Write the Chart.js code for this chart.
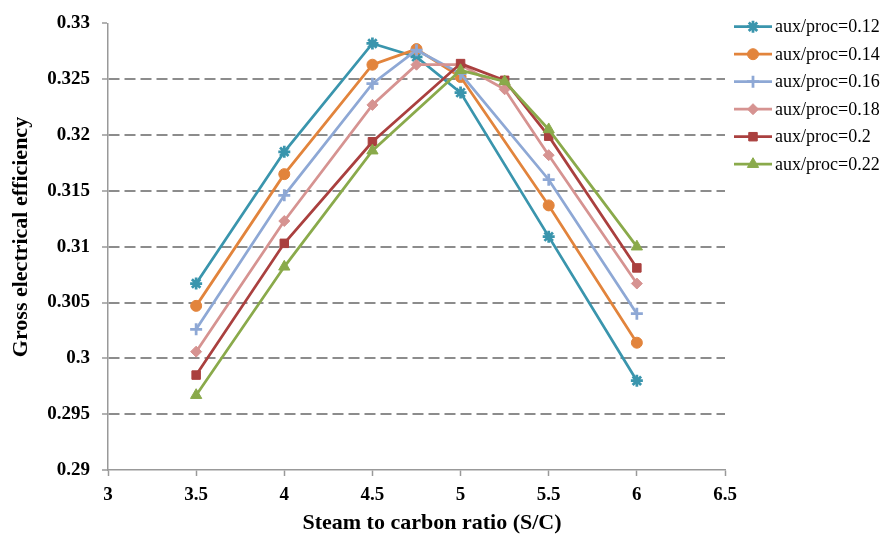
<!DOCTYPE html>
<html><head><meta charset="utf-8">
<script src="https://cdn.jsdelivr.net/npm/chart.js@4.4.1/dist/chart.umd.min.js"></script>
<style>html,body{margin:0;padding:0;background:#fff;}canvas{display:block;}</style>
</head><body>
<canvas id="c" width="884" height="537" style="width:884px;height:537px"></canvas>
<script>
// ---- data ----
const seriesNames = ['aux/proc=0.12','aux/proc=0.14','aux/proc=0.16','aux/proc=0.18','aux/proc=0.2','aux/proc=0.22'];
const x012 = [3.5, 4, 4.5, 4.75, 5, 5.5, 6];
const y012 = [0.3067, 0.3185, 0.3282, 0.3270, 0.3238, 0.3109, 0.2980];
const x014 = [3.5, 4, 4.5, 4.75, 5, 5.5, 6];
const y014 = [0.3047, 0.3165, 0.3263, 0.3277, 0.3252, 0.3137, 0.3014];
const x016 = [3.5, 4, 4.5, 4.75, 5, 5.5, 6];
const y016 = [0.3026, 0.3146, 0.3246, 0.3276, 0.3255, 0.3160, 0.3040];
const x018 = [3.5, 4, 4.5, 4.75, 5, 5.25, 5.5, 6];
const y018 = [0.3006, 0.3123, 0.3227, 0.3263, 0.3263, 0.3241, 0.3182, 0.3067];
const x020 = [3.5, 4, 4.5, 5, 5.25, 5.5, 6];
const y020 = [0.2985, 0.3103, 0.3194, 0.3264, 0.3249, 0.3199, 0.3081];
const x022 = [3.5, 4, 4.5, 5, 5.25, 5.5, 6];
const y022 = [0.2967, 0.3082, 0.3186, 0.3258, 0.3248, 0.3205, 0.3100];
const xAxisMin = 3, xAxisMax = 6.5, xAxisStep = 0.5;
const yAxisMin = 0.29, yAxisMax = 0.33, yAxisStep = 0.005;
const xTitle = 'Steam to carbon ratio (S/C)';
const yTitle = 'Gross electrical efficiency';

// ---- styles ----
const colors = ['#3A95AD', '#E2843C', '#8EA8D5', '#D69391', '#AA403F', '#8AAA4B'];
const markers = ['star', 'circle', 'cross', 'rectRot', 'rect', 'triangle'];
const radii = [6, 5.5, 6, 5.5, 6, 6.5];
const xs = [x012, x014, x016, x018, x020, x022];
const ys = [y012, y014, y016, y018, y020, y022];

const datasets = seriesNames.map((name, i) => ({
  label: name,
  data: xs[i].map((x, k) => ({x: x, y: ys[i][k]})),
  borderColor: colors[i],
  backgroundColor: colors[i],
  borderWidth: 2.75,
  pointStyle: markers[i],
  pointRadius: radii[i],
  pointBorderWidth: (markers[i] === 'star' || markers[i] === 'cross') ? 2.75 : 1,
  pointBackgroundColor: colors[i],
  pointBorderColor: colors[i],
  tension: 0,
  fill: false,
  order: seriesNames.length - i
}));

const serif = "'Liberation Serif', 'Times New Roman', serif";
const fmt = v => parseFloat(Number(v).toFixed(4)).toString();

function drawMarker(ctx, style, r, bw, x, y) {
  if (Chart.helpers && Chart.helpers.drawPoint) {
    Chart.helpers.drawPoint(ctx, {pointStyle: style, radius: r, borderWidth: bw, rotation: 0}, x, y);
    return;
  }
  ctx.beginPath(); ctx.arc(x, y, r, 0, Math.PI * 2); ctx.fill();
}

const extras = {
  id: 'extras',
  afterDraw(chart) {
    const ctx = chart.ctx;
    ctx.save();
    // axis titles
    ctx.fillStyle = '#000';
    ctx.font = 'bold 22px ' + serif;
    ctx.textAlign = 'center';
    ctx.textBaseline = 'middle';
    ctx.fillText(xTitle, 432, 523);
    ctx.save();
    ctx.translate(21, 237);
    ctx.rotate(-Math.PI / 2);
    ctx.fillText(yTitle, 0, 0);
    ctx.restore();
    // legend
    ctx.font = '18px ' + serif;
    ctx.textAlign = 'left';
    for (let i = 0; i < seriesNames.length; i++) {
      const y = 26.7 + i * 27.5;
      ctx.strokeStyle = colors[i];
      ctx.fillStyle = colors[i];
      ctx.lineWidth = 2.75;
      ctx.beginPath(); ctx.moveTo(734, y); ctx.lineTo(772, y); ctx.stroke();
      const bw = (markers[i] === 'star' || markers[i] === 'cross') ? 2.75 : 1;
      ctx.lineWidth = bw;
      drawMarker(ctx, markers[i], radii[i], bw, 753, y);
      ctx.fillStyle = '#000';
      ctx.fillText(seriesNames[i], 775, y + 1);
    }
    ctx.restore();
  }
};

new Chart(document.getElementById('c'), {
  type: 'line',
  data: {datasets: datasets},
  plugins: [extras],
  options: {
    responsive: false,
    animation: false,
    devicePixelRatio: 1,
    layout: {padding: {left: 0, right: 159, top: 18, bottom: 0}},
    plugins: {legend: {display: false}, tooltip: {enabled: false}, title: {display: false}},
    scales: {
      x: {
        type: 'linear',
        min: xAxisMin, max: xAxisMax,
        afterFit(scale) { scale.height = 67; },
        ticks: {stepSize: xAxisStep, color: '#000', padding: 8,
          font: {family: serif, size: 19, weight: 'bold'},
          maxRotation: 0, autoSkip: false, callback: fmt},
        grid: {drawOnChartArea: false, drawTicks: true, tickLength: 6, tickColor: '#999', tickWidth: 1.5},
        border: {color: '#999', width: 1.5}
      },
      y: {
        type: 'linear',
        min: yAxisMin, max: yAxisMax,
        afterFit(scale) { scale.width = 108; },
        ticks: {stepSize: yAxisStep, color: '#000', padding: 12,
          font: {family: serif, size: 19, weight: 'bold'},
          callback: fmt},
        grid: {
          color: ctx => {
            const v = ctx.tick ? ctx.tick.value : null;
            if (v === null) return 'rgba(0,0,0,0)';
            if (Math.abs(v - yAxisMin) < 1e-6 || Math.abs(v - yAxisMax) < 1e-6) return 'rgba(0,0,0,0)';
            return '#8C8C8C';
          },
          lineWidth: 2, drawTicks: true, tickLength: 6, tickColor: '#999', tickWidth: 1.5
        },
        border: {color: '#999', width: 1.5, dash: [11, 5]}
      }
    }
  }
});
</script>
</body></html>
